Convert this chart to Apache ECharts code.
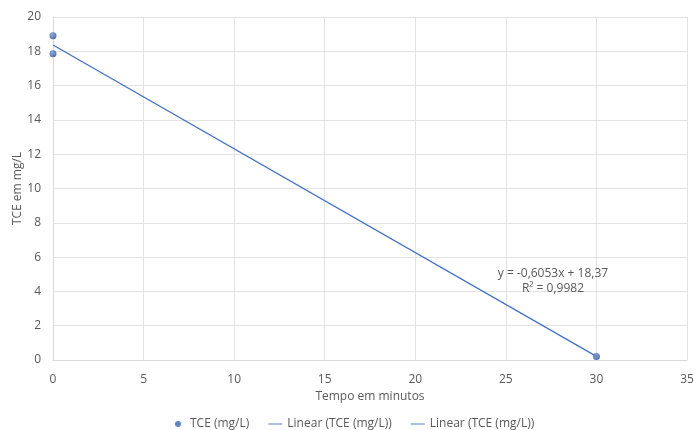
<!DOCTYPE html>
<html>
<head>
<meta charset="utf-8">
<script src="https://cdn.jsdelivr.net/npm/echarts@6/dist/echarts.min.js"></script>
<style>
  html, body { margin: 0; padding: 0; background: #fff; }
  #chart { width: 694px; height: 430px; }
</style>
</head>
<body>
<div id="chart"></div>
<script>
// valores
const tempo = [0, 0, 30]
const tce = [18.9, 17.85, 0.2]
const trendX = [0, 30]
const trendY = [18.37, 0.21]
const eqText = 'y = -0,6053x + 18,37\nR² = 0,9982'

const font = 'Open Sans'
const textColor = '#595959'
const lineColor = '#4472C4'
const lineIcon = 'path://M0,0H20V1.3H0Z'

let myChart = echarts.init(document.getElementById('chart'))
myChart.setOption({
  animation: false,
  textStyle: { fontFamily: font },
  grid: { left: 53, right: 7, top: 17, bottom: 70, outerBoundsMode: 'none' },
  legend: {
    top: 413,
    left: 170,
    itemGap: 19,
    itemWidth: 14,
    itemHeight: 6,
    symbolKeepAspect: true,
    textStyle: { color: textColor, fontSize: 12, fontFamily: font },
    data: [
      { name: 'TCE (mg/L)', icon: 'circle', itemStyle: { color: '#3a68b8' } },
      { name: 'Linear (TCE (mg/L))', icon: lineIcon },
      { name: 'Linear (TCE (mg/L)) ', icon: lineIcon }
    ]
  },
  xAxis: {
    type: 'value',
    min: 0,
    max: 35,
    interval: 5,
    name: 'Tempo em minutos',
    nameLocation: 'middle',
    nameGap: 31,
    nameMoveOverlap: false,
    nameTextStyle: { color: textColor, fontSize: 12 },
    axisLine: { show: true, lineStyle: { color: '#d9d9d9' } },
    axisTick: { show: false },
    axisLabel: { color: textColor, fontSize: 12, margin: 14 },
    splitLine: { show: true, lineStyle: { color: '#e3e3e3' } }
  },
  yAxis: {
    type: 'value',
    min: 0,
    max: 20,
    interval: 2,
    name: 'TCE em mg/L',
    nameLocation: 'middle',
    nameGap: 29,
    nameMoveOverlap: false,
    nameTextStyle: { color: textColor, fontSize: 12 },
    axisLine: { show: true, lineStyle: { color: '#d9d9d9' } },
    axisTick: { show: false },
    axisLabel: { color: textColor, fontSize: 12, margin: 12 },
    splitLine: { show: true, lineStyle: { color: '#e3e3e3' } }
  },
  series: [
    {
      name: 'Linear (TCE (mg/L))',
      type: 'line',
      symbol: 'none',
      color: lineColor,
      lineStyle: { width: 1.3, color: lineColor },
      data: trendX.map((x, i) => [x, trendY[i]]),
      markPoint: {
        symbol: 'circle',
        symbolSize: 0,
        label: {
          show: true,
          formatter: eqText,
          color: textColor,
          fontSize: 12,
          lineHeight: 15,
          align: 'center'
        },
        data: [{ coord: [27.6, 4.6] }]
      }
    },
    {
      name: 'Linear (TCE (mg/L)) ',
      type: 'line',
      symbol: 'none',
      color: lineColor,
      lineStyle: { width: 1.3, color: lineColor },
      data: []
    },
    {
      name: 'TCE (mg/L)',
      type: 'scatter',
      symbolSize: 7,
      z: 5,
      itemStyle: {
        color: new echarts.graphic.RadialGradient(0.4, 0.35, 0.65, [
          { offset: 0, color: '#6f98dc' },
          { offset: 1, color: '#264f94' }
        ])
      },
      data: tempo.map((x, i) => [x, tce[i]])
    }
  ]
})
</script>
</body>
</html>
